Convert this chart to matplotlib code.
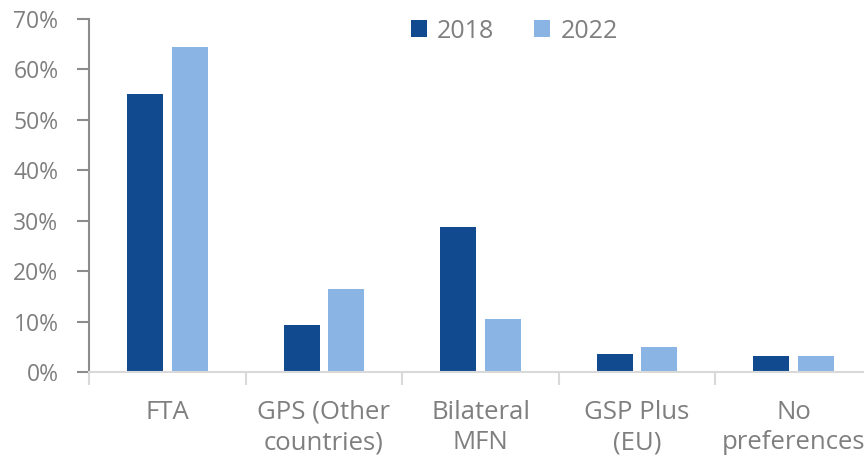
import numpy as np
import matplotlib
matplotlib.use("Agg")
import matplotlib.pyplot as plt
from matplotlib.ticker import FuncFormatter, FixedLocator

categories = ["FTA", "GPS (Other\ncountries)", "Bilateral\nMFN", "GSP Plus\n(EU)", "No\npreferences"]
years = ["2018", "2022"]
vals_2018 = [55.2, 9.3, 28.7, 3.5, 3.1]
vals_2022 = [64.5, 16.5, 10.6, 5.0, 3.2]

dark = "#114A8E"
light = "#8AB4E3"
grey = "#7F7F7F"

plt.rcParams['font.family'] = ['Open Sans', 'DejaVu Sans']

fig = plt.figure(figsize=(8.64, 4.59), dpi=100)
W, H = 864, 459
x0, x1, y0, y1 = 89, 872, 372, 19
ax = fig.add_axes([x0 / W, (H - y0) / H, (x1 - x0) / W, (y0 - y1) / H])

x = np.arange(len(categories))
bw = 0.23
off = 0.142
ax.bar(x - off, vals_2018, bw, color=dark, label=years[0])
ax.bar(x + off, vals_2022, bw, color=light, label=years[1])

ax.set_xlim(-0.5, len(categories) - 0.5)
ax.set_ylim(0, 70)
ax.set_yticks(np.arange(0, 71, 10))
ax.yaxis.set_major_formatter(FuncFormatter(lambda v, p: f"{v:.0f}%"))

ax.set_xticks(x)
ax.set_xticklabels(categories, linespacing=1.3)
ax.xaxis.set_minor_locator(FixedLocator(np.arange(-0.5, len(categories), 1.0)))
ax.tick_params(axis="x", which="major", length=0, pad=20, labelsize=18.5, labelcolor=grey)
ax.tick_params(axis="x", which="minor", length=9, width=1.5, color="#D9D9D9", direction="out")
ax.tick_params(axis="y", length=9, width=1.5, color="#8C8C8C", pad=13, labelsize=16.5, labelcolor=grey)

for s in ["top", "right"]:
    ax.spines[s].set_visible(False)
ax.spines["left"].set_color("#8C8C8C")
ax.spines["left"].set_linewidth(1.5)
ax.spines["bottom"].set_color("#D9D9D9")
ax.spines["bottom"].set_linewidth(1.5)

leg = ax.legend(loc="upper left", bbox_to_anchor=((388 - x0) / (x1 - x0), 1.065), ncol=2,
                frameon=False, fontsize=18, handlelength=0.65, handleheight=0.65,
                columnspacing=1.6, handletextpad=0.4)
for t in leg.get_texts():
    t.set_color(grey)

fig.savefig("out.png", dpi=100)
